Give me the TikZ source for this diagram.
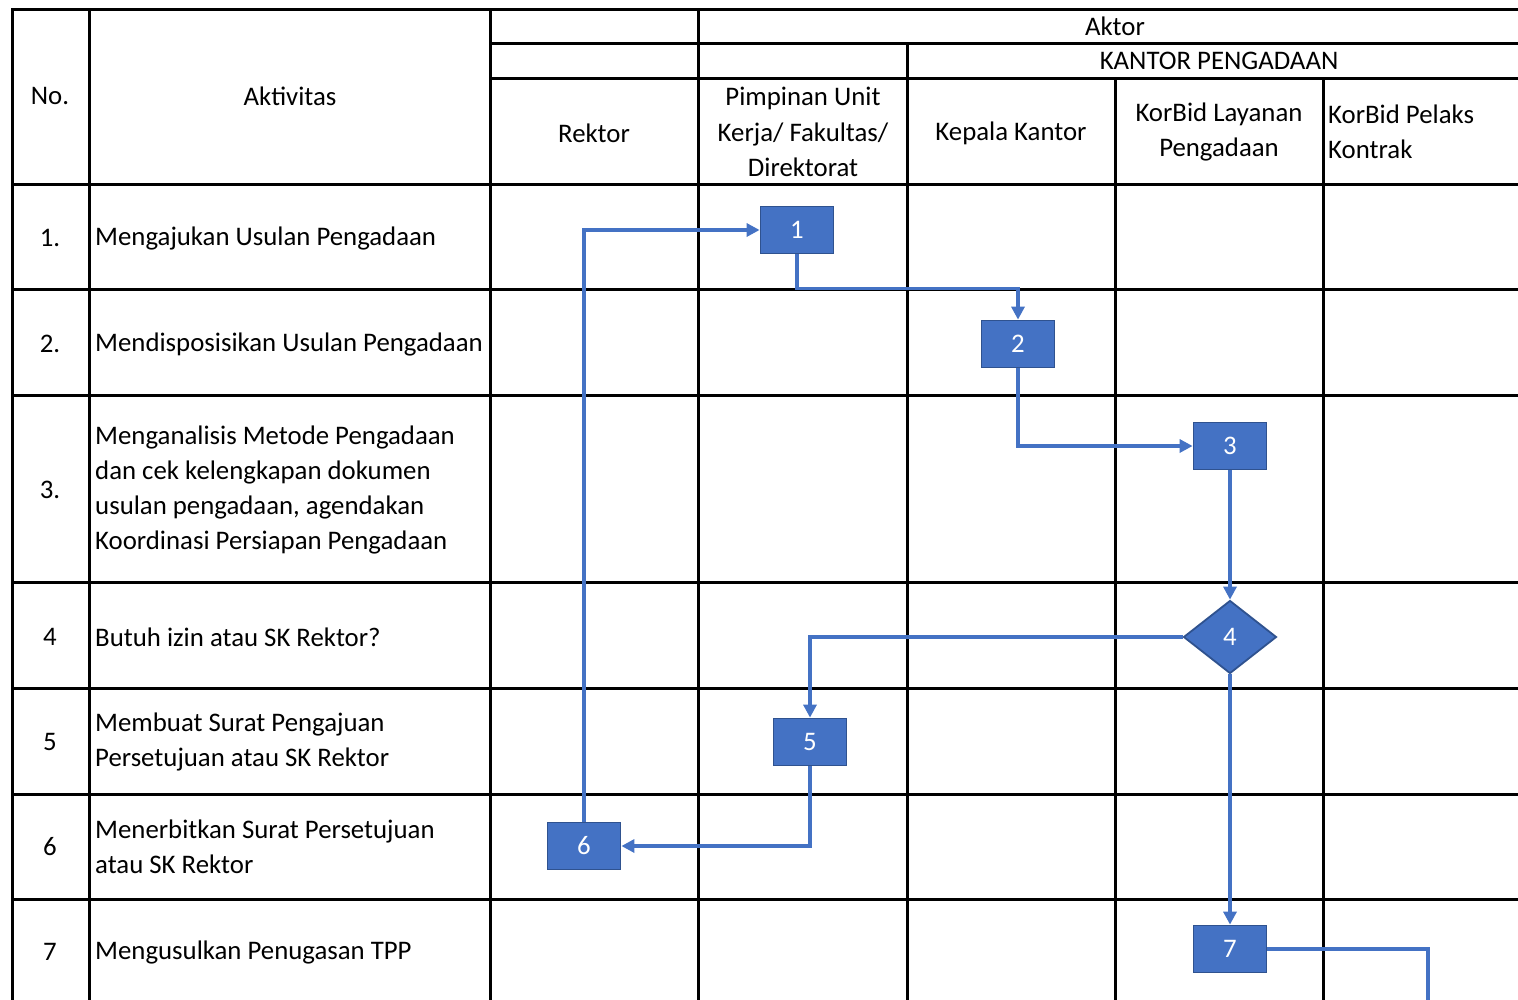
\documentclass[tikz,border=0pt]{standalone}
\usepackage{fontspec}
\setmainfont{Carlito}
\usetikzlibrary{arrows.meta,shapes.geometric,positioning}
\definecolor{boxfill}{HTML}{4472C4}
\definecolor{boxline}{HTML}{2F528F}

\begin{document}
\begin{tikzpicture}[x=1pt,y=-1pt,
    every node/.style={font=\fontsize{26.8}{35.3}\selectfont,inner sep=0pt},
    grid/.style={line width=3pt,black,line cap=rect},
    act/.style={rectangle,fill=boxfill,draw=boxline,line width=1.8pt,
        minimum width=73pt,minimum height=47pt,text=white},
    dec/.style={diamond,fill=boxfill,draw=boxline,line width=1.8pt,
        minimum width=93pt,minimum height=73pt,text=white},
    link/.style={line width=3.2pt,boxfill},
    flow/.style={link,-{Triangle[length=13pt,width=13pt]}},
    lab/.style={anchor=west,align=left}]
    \useasboundingbox (0,0) rectangle (1518,999);
    \fill[white] (0,0) rectangle (1518,999);

    % table
    \draw[grid] (12,9) -- (1518,9);
    \draw[grid] (490,43) -- (1518,43);
    \draw[grid] (490,78) -- (1518,78);
    \foreach \y in {184,289,395,582,688,794,899}
        \draw[grid] (12,\y) -- (1518,\y);
    \foreach \x in {12,89,490,698}
        \draw[grid] (\x,9) -- (\x,1010);
    \draw[grid] (907,43) -- (907,1010);
    \foreach \x in {1115,1323}
        \draw[grid] (\x,78) -- (\x,1010);

    % header
    \node (h_no)  at (50,96)   {No.};
    \node (h_akt) at (290,96)  {Aktivitas};
    \node (h_aktor) at (1115,26) {Aktor};
    \node (h_kantor) at (1219,61) {KANTOR PENGADAAN};
    \node (h_rek) at (594,133) {Rektor};
    \node[align=center] (h_pim) at (803,132) {Pimpinan Unit\\Kerja/ Fakultas/\\Direktorat};
    \node (h_kep) at (1011,133) {Kepala Kantor};
    \node[align=center] (h_lay) at (1219,132) {KorBid Layanan\\Pengadaan};
    \node[lab] (h_pel) at (1328,132) {KorBid Pelaks\\Kontrak};

    % rows
    \node (n_1) at (50,238) {1.};
    \node (n_2) at (50,344) {2.};
    \node (n_3) at (50,490) {3.};
    \node (n_4) at (50,637) {4};
    \node (n_5) at (50,742) {5};
    \node (n_6) at (50,847) {6};
    \node (n_7) at (50,952) {7};
    \node[lab] (t_1) at (95,238) {Mengajukan Usulan Pengadaan};
    \node[lab] (t_2) at (95,344) {Mendisposisikan Usulan Pengadaan};
    \node[lab] (t_3) at (95,490) {Menganalisis Metode Pengadaan\\dan cek kelengkapan dokumen\\usulan pengadaan, agendakan\\Koordinasi Persiapan Pengadaan};
    \node[lab] (t_4) at (95,637) {Butuh izin atau SK Rektor?};
    \node[lab] (t_5) at (95,742) {Membuat Surat Pengajuan\\Persetujuan atau SK Rektor};
    \node[lab] (t_6) at (95,847) {Menerbitkan Surat Persetujuan\\atau SK Rektor};
    \node[lab] (t_7) at (95,952) {Mengusulkan Penugasan TPP};

    % flow
    \node[act] (a_1) at (797,230) {1};
    \node[act] (a_2) at (1018,344) {2};
    \node[act] (a_3) at (1230,446) {3};
    \node[dec] (d_4) at (1230,637) {4};
    \node[act] (a_5) at (810,742) {5};
    \node[act] (a_6) at (584,846) {6};
    \node[act] (a_7) at (1230,949) {7};
    \coordinate (c_out) at (1428,1010);

    \draw[flow] (a_1.south) -- ++(0,34) -| (a_2.north);
    \draw[flow] (a_2.south) |- (a_3.west);
    \draw[flow] (a_3.south) -- (d_4.north);
    \draw[flow] (d_4.west) -| (a_5.north);
    \draw[flow] (d_4.south) -- (a_7.north);
    \draw[flow] (a_5.south) |- (a_6.east);
    \draw[flow] (a_6.north) |- (a_1.west);
    \draw[link] (a_7.east) -| (c_out);
\end{tikzpicture}
\end{document}
